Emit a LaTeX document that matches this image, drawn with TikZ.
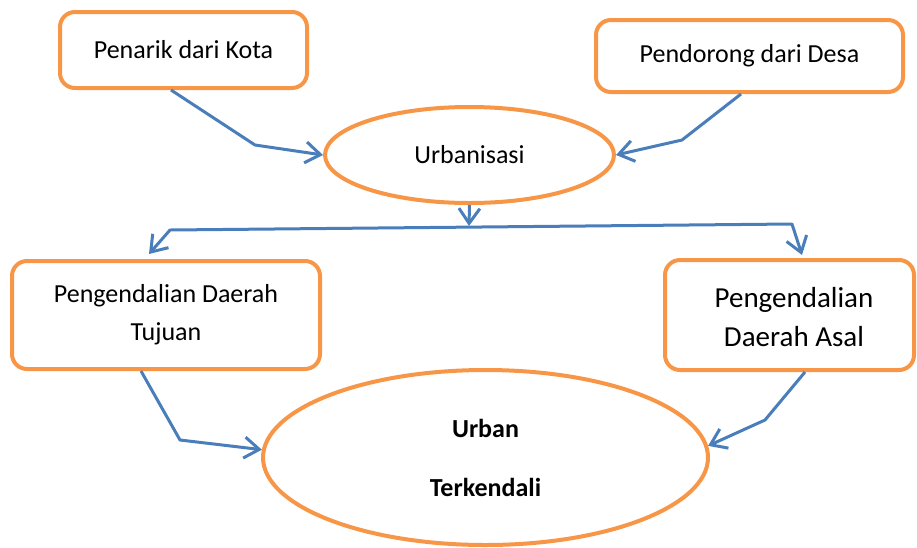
\documentclass[tikz,border=0pt]{standalone}
\usepackage{fontspec}
\setmainfont{Carlito}
\usetikzlibrary{arrows.meta,shapes.geometric}
\definecolor{boxorange}{HTML}{F79646}
\definecolor{lineblue}{HTML}{4A7EBB}
\tikzset{
  obox/.style={draw=boxorange, line width=4pt, rounded corners=15pt, rectangle, inner sep=0pt, align=center},
  oell/.style={draw=boxorange, line width=4pt, ellipse, inner sep=0pt, align=center},
  tip/.style={Straight Barb[length=15pt,width=21pt,line width=3pt]},
  conn/.style={draw=lineblue, line width=3pt, line join=round, -{Straight Barb[length=15pt,width=21pt,line width=3pt]}},
  connboth/.style={draw=lineblue, line width=3pt, line join=round, {Straight Barb[length=15pt,width=21pt,line width=3pt]}-{Straight Barb[length=15pt,width=21pt,line width=3pt]}},
  txt/.style={font=\fontsize{26}{38}\selectfont},
  txtbig/.style={font=\fontsize{29}{39}\selectfont, align=center, inner sep=0pt},
  txtbold/.style={font=\fontsize{26}{59}\selectfont\bfseries},
}
\begin{document}
\begin{tikzpicture}[x=1pt,y=-1pt]
\useasboundingbox (0,0) rectangle (917,547);
% shapes
\node[obox, txt, minimum width=247pt, minimum height=76pt] (b1) at (183.5,50) {Penarik dari Kota};
\node[obox, txt, minimum width=307pt, minimum height=72pt] (b2) at (749.5,56) {Pendorong dari Desa};
\node[oell, txt, minimum width=289pt, minimum height=96pt] (e1) at (469.5,155) {Urbanisasi};
\node[obox, txt, minimum width=308pt, minimum height=108pt] (b3) at (166,315) {Pengendalian Daerah\\Tujuan};
\node[obox, minimum width=249pt, minimum height=110pt] (b4) at (789.5,315) {};
\node[txtbig] (b4t) at (794,317) {Pengendalian\\Daerah Asal};
\node[oell, txtbold, minimum width=445pt, minimum height=175pt] (e2) at (485.5,457.5) {Urban\\Terkendali};
% bend points
\coordinate (k1) at (255,145);
\coordinate (k2) at (682,140);
\coordinate (hj) at (469,226);
\coordinate (hl) at (170,230);
\coordinate (hr) at (792,224);
\coordinate (k5) at (180,440);
\coordinate (k6) at (765,420);
% connectors
\draw[conn] ([xshift=113pt]b1.south west) -- (k1) -- (e1.west);
\draw[conn] ([xshift=147pt]b2.south west) -- (k2) -- (e1.east);
\draw[conn] (e1.south) -- (hj);
\draw[connboth] ([shift={(139,-5)}]b3.north west) -- (hl) -- (hr) -- ([shift={(139,-3)}]b4.north west);
\draw[conn] ([xshift=131pt]b3.south west) -- (k5) -- (e2.178);
\draw[conn] ([xshift=142pt]b4.south west) -- (k6) -- (e2.3);
\end{tikzpicture}
\end{document}
